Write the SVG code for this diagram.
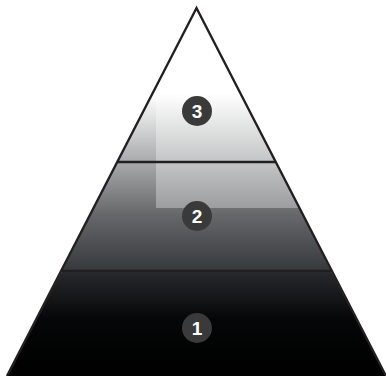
<svg xmlns="http://www.w3.org/2000/svg" width="386" height="376" viewBox="0 0 386 376">
  <style>
    .tier { fill: url(#g); }
    .edge { fill: none; stroke: #231f20; stroke-width: 2.4; stroke-linejoin: miter; }
    .badge { fill: #3a3a3b; }
    .num { fill: #ffffff; font-family: "Liberation Sans", Arial, sans-serif; font-size: 19px; font-weight: bold; text-anchor: middle; }
  </style>
  <defs>
    <linearGradient id="g" gradientUnits="userSpaceOnUse" x1="0" y1="0" x2="0" y2="376">
      <stop offset="0" stop-color="#ffffff"/>
      <stop offset="0.25" stop-color="#ffffff"/>
      <stop offset="0.43" stop-color="#a8aaab"/>
      <stop offset="0.57" stop-color="#66686a"/>
      <stop offset="0.715" stop-color="#383b3d"/>
      <stop offset="0.73" stop-color="#25272a"/>
      <stop offset="0.85" stop-color="#050607"/>
      <stop offset="1" stop-color="#000000"/>
    </linearGradient>
    <clipPath id="pyr">
      <polygon points="196.5,8 386,376 7,376"/>
    </clipPath>
  </defs>
  <g id="tier1">
    <polygon class="tier" points="62,271 331,271 386,376 7,376"/>
  </g>
  <g id="tier2">
    <polygon class="tier" points="117,162 276,162 331,271 62,271"/>
  </g>
  <g id="tier3">
    <polygon class="tier" points="196.5,8 276,162 117,162"/>
  </g>
  <rect x="156" y="90" width="230" height="118" fill="#ffffff" fill-opacity="0.32" clip-path="url(#pyr)"/>
  <g id="connectors">
    <polyline class="edge" points="7,376 196.5,8 386,376"/>
    <line class="edge" x1="117" y1="162" x2="276" y2="162"/>
    <line class="edge" x1="62" y1="271" x2="331" y2="271"/>
  </g>
  <g id="badge3">
    <circle class="badge" cx="197" cy="111" r="15"/>
    <text class="num" x="197" y="118">3</text>
  </g>
  <g id="badge2">
    <circle class="badge" cx="197" cy="216" r="15"/>
    <text class="num" x="197" y="223">2</text>
  </g>
  <g id="badge1">
    <circle class="badge" cx="197" cy="328" r="15"/>
    <text class="num" x="197" y="335">1</text>
  </g>
</svg>
